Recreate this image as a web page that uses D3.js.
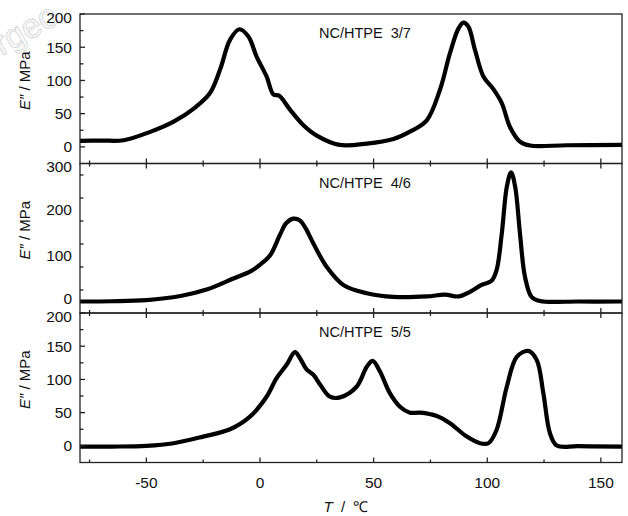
<!DOCTYPE html>
<html>
<head>
<meta charset="utf-8">
<script src="https://cdn.jsdelivr.net/npm/d3@7"></script>
<style>
  body { margin: 0; background: #fff; }
  svg { display: block; }
  text { font-family: "Liberation Sans", Arial, sans-serif; fill: #111; white-space: pre; }
</style>
</head>
<body>
<svg id="chart" width="628" height="516"></svg>
<script>
// T (℃) and E'' (MPa)
const temp37 = [-80, -70, -60, -48, -38, -29, -22, -17.6, -13.2, -9.1, -5.1, -1.5, 2.9, 5.9, 8.5, 13.2, 19, 25, 35, 47, 58.7, 66, 73.4, 79.2, 83.6, 87.3, 89.5, 91.7, 94.6, 98.3, 102.7, 106.4, 110, 114.4, 118.8, 135, 159];
const e37    = [9, 9.5, 10, 23, 38, 58, 81, 116, 161, 177, 166, 136, 106, 79, 77, 56, 33, 17, 3, 5, 12, 23, 40, 86, 141, 178, 187, 181, 146, 106, 87, 66, 30, 8, 2, 2.5, 3];

const temp46 = [-80, -65, -50, -35, -23.5, -11.7, -4, 0, 4.4, 8.8, 11.5, 14.7, 17.6, 20, 23.5, 29.4, 36.7, 47, 58.7, 73.4, 81.4, 87.3, 92.4, 97.5, 101.9, 104.1, 106.4, 108.6, 110.5, 112.3, 114.4, 116.6, 119.5, 123.2, 140, 159];
const e46    = [0, 0.5, 3, 12, 26, 50, 66, 80, 100, 145, 170, 180, 176, 160, 126, 75, 36, 18, 10, 11, 15, 11, 21, 36, 45, 68, 148, 249, 281, 249, 148, 54, 10, 1, 0, 0];

const temp55 = [-80, -65, -50, -38, -25, -13.2, -4.4, 2.9, 7.3, 11.7, 15.4, 17.6, 20.5, 23.5, 26.5, 30.8, 35.2, 42.5, 47, 49.6, 52.8, 57.2, 61.6, 66, 70.4, 77.8, 83.6, 91, 96.8, 100.5, 104.1, 108.6, 113, 118.1, 121.8, 124.7, 127.6, 130.6, 140, 159];
const e55    = [-1, -1, 0, 4, 14, 25, 44, 74, 102, 122, 141, 132, 115, 107, 92, 74, 73, 89, 119, 128, 112, 79, 59, 50, 50, 45, 34, 14, 4, 4, 24, 89, 134, 143, 129, 79, 19, 0.5, -0.5, -1];

const panels = [
  {name: 'NC/HTPE  3/7', t: temp37, e: e37, domain: [-25, 200], step: 25, labels: [0, 50, 100, 150, 200], topTicks: false},
  {name: 'NC/HTPE  4/6', t: temp46, e: e46, domain: [-25, 300], step: 50, labels: [0, 100, 200, 300], topTicks: true},
  {name: 'NC/HTPE  5/5', t: temp55, e: e55, domain: [-25, 200], step: 25, labels: [0, 50, 100, 150, 200], topTicks: true}
];
const xTicks = [-75, -50, -25, 0, 25, 50, 75, 100, 125, 150];
const xLabels = [-50, 0, 50, 100, 150];

const left = 80, right = 622, top0 = 14, ph = 149.5;
const svg = d3.select('#chart');

// faint watermark in the corner
svg.append('text')
  .attr('transform', 'translate(2,56) rotate(-30)')
  .style('font-size', '34px')
  .style('fill', 'none')
  .style('stroke', '#d8d8d8')
  .style('stroke-width', 1)
  .text('rgeo');

const x = d3.scaleLinear().domain([-79.2, 159.3]).range([left, right]);

panels.forEach(function (p, i) {
  const y0 = top0 + i * ph, y1 = y0 + ph;
  const y = d3.scaleLinear().domain(p.domain).range([y1, y0]);
  const g = svg.append('g');

  g.append('clipPath').attr('id', 'clip' + i)
    .append('rect').attr('x', left).attr('y', y0).attr('width', right - left).attr('height', ph);

  const line = d3.line()
    .x(d => x(d[0]))
    .y(d => y(d[1]))
    .curve(d3.curveCatmullRom.alpha(0.5));

  g.append('path')
    .datum(d3.zip(p.t, p.e))
    .attr('clip-path', 'url(#clip' + i + ')')
    .attr('d', line)
    .attr('fill', 'none')
    .attr('stroke', '#000')
    .attr('stroke-width', 4.2)
    .attr('stroke-linejoin', 'round')
    .attr('stroke-linecap', 'round');

  // frame
  g.append('rect')
    .attr('x', left).attr('y', y0).attr('width', right - left).attr('height', ph)
    .attr('fill', 'none').attr('stroke', '#222').attr('stroke-width', 1.3);

  // y ticks, inward
  const yt = d3.range(p.domain[0] + p.step, p.domain[1] + 0.1, p.step);
  g.selectAll('.yt').data(yt).enter().append('line')
    .attr('x1', left).attr('x2', d => left + (p.labels.includes(d) ? 5 : 3.5))
    .attr('y1', d => y(d)).attr('y2', d => y(d))
    .attr('stroke', '#222').attr('stroke-width', 1.3);
  const ymax = p.domain[1];
  g.selectAll('.yl').data(p.labels).enter().append('text')
    .attr('x', left - 8)
    .attr('y', d => y(d) + (d === ymax ? 3 : 0) + (i === 1 && d === 0 ? -3 : 0))
    .attr('dy', '0.36em')
    .attr('text-anchor', 'end')
    .style('font-size', '15.5px')
    .text(d => d);

  // x ticks, inward at bottom (and top for lower panels)
  g.selectAll('.xb').data(xTicks).enter().append('line')
    .attr('x1', d => x(d)).attr('x2', d => x(d))
    .attr('y1', y1).attr('y2', d => y1 - (xLabels.includes(d) ? 5 : 3))
    .attr('stroke', '#222').attr('stroke-width', 1.3);
  if (p.topTicks) {
    g.selectAll('.xt').data(xTicks).enter().append('line')
      .attr('x1', d => x(d)).attr('x2', d => x(d))
      .attr('y1', y0).attr('y2', d => y0 + (xLabels.includes(d) ? 5 : 3))
      .attr('stroke', '#222').attr('stroke-width', 1.3);
  }

  g.append('text')
    .attr('x', 319).attr('y', y0 + 24)
    .style('font-size', '14.5px')
    .text(p.name);

  const yl = g.append('text')
    .attr('transform', 'translate(30,' + (y0 + ph / 2 - 8) + ') rotate(-90)')
    .attr('text-anchor', 'middle')
    .style('font-size', '15px');
  yl.append('tspan').style('font-style', 'italic').text('E\u2033');
  yl.append('tspan').text(' / MPa');
});

const yBottom = top0 + 3 * ph;
svg.selectAll('.xlab').data(xLabels).enter().append('text')
  .attr('x', d => x(d)).attr('y', yBottom + 25)
  .attr('text-anchor', 'middle')
  .style('font-size', '15.5px')
  .text(d => d);

const xt = svg.append('text')
  .attr('x', 346).attr('y', 512)
  .attr('text-anchor', 'middle')
  .style('font-size', '15px');
xt.append('tspan').style('font-style', 'italic').text('T');
xt.append('tspan').text('  /  \u2103');
</script>
</body>
</html>
